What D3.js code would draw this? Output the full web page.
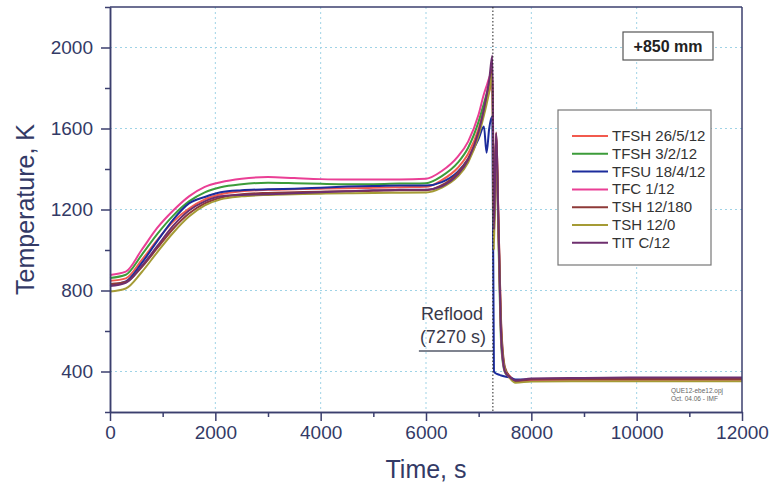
<!DOCTYPE html>
<html>
<head>
<meta charset="utf-8">
<script src="https://cdn.jsdelivr.net/npm/d3@7"></script>
<style>
    body { margin: 0; background: #fff; }
    svg { font-family: "Liberation Sans", Arial, sans-serif; }
</style>
</head>
<body>
<div id="chart"></div>
<script>
"use strict";

const WIDTH = 774;
const HEIGHT = 491;
const MARGIN = { top: 7, right: 32, bottom: 79, left: 110 };

const AXIS_COLOR = "#3b3f6e";
const TEXT_COLOR = "#333a66";

// Time points (s) shared by all series
const times = [
    0, 300, 600, 900, 1200, 1500, 1800, 2100, 2500, 3000, 3500, 4000, 4500, 5000, 5500, 6000,
    6300, 6600, 6800, 7000, 7100, 7150, 7200, 7260, 7290, 7330, 7380, 7430, 7500, 7600, 7700,
    8000, 9000, 10000, 11000, 12000
];

const seriesNames = [
    "TFSH 26/5/12", "TFSH 3/2/12", "TFSU 18/4/12", "TFC 1/12", "TSH 12/180", "TSH 12/0", "TIT C/12"
];
const seriesColors = ["#f25a4e", "#3c9c3a", "#1c2c9c", "#ea3f95", "#8e3a38", "#a59b35", "#6e2f6e"];

// Temperatures (K)
const tfsh26 = [
    848, 860, 950, 1050, 1140, 1205, 1250, 1275, 1290, 1297, 1300, 1303, 1305, 1307, 1310, 1312,
    1345, 1405, 1475, 1600, 1695, 1740, 1785, 1830, 1200, 1560, 1100, 600, 410, 375, 355,
    362, 365, 365, 365, 366
];
const tfsh3 = [
    862, 878, 975, 1080, 1170, 1240, 1285, 1310, 1325, 1332, 1330, 1327, 1325, 1325, 1328, 1330,
    1365, 1430, 1505, 1635, 1725, 1770, 1815, 1850, 1100, 1520, 1000, 520, 395, 368, 352,
    358, 360, 360, 360, 360
];
const tfsu18 = [
    828, 845, 935, 1045, 1150, 1230, 1262, 1285, 1295, 1300, 1303, 1308, 1313, 1316, 1318, 1318,
    1335, 1385, 1450, 1550, 1610, 1480, 1600, 1660, 400, 390, 385, 380, 375, 370, 360,
    362, 362, 362, 362, 362
];
const tfc1 = [
    877, 893, 1000, 1110, 1195, 1265, 1312, 1335, 1352, 1360, 1355, 1350, 1348, 1348, 1348, 1352,
    1390, 1460, 1535, 1670, 1770, 1810, 1850, 1880, 1150, 1500, 1050, 550, 400, 370, 350,
    355, 358, 358, 358, 358
];
const tsh180 = [
    832, 842, 915, 1010, 1105, 1180, 1230, 1258, 1275, 1282, 1285, 1288, 1290, 1292, 1295, 1295,
    1320, 1380, 1450, 1580, 1685, 1740, 1800, 1900, 1050, 1580, 1100, 620, 420, 372, 352,
    360, 363, 363, 363, 363
];
const tsh0 = [
    795, 810, 890, 990, 1085, 1165, 1220, 1250, 1265, 1272, 1275, 1278, 1280, 1282, 1283, 1284,
    1308, 1362, 1432, 1565, 1665, 1720, 1780, 1870, 1000, 1540, 1050, 580, 410, 365, 345,
    350, 352, 352, 352, 352
];
const titC = [
    822, 838, 920, 1020, 1120, 1195, 1240, 1265, 1272, 1275, 1280, 1285, 1290, 1295, 1297, 1298,
    1315, 1372, 1445, 1585, 1695, 1765, 1840, 1960, 1100, 1575, 1080, 560, 400, 370, 355,
    365, 368, 370, 370, 370
];
const seriesValues = [tfsh26, tfsh3, tfsu18, tfc1, tsh180, tsh0, titC];

const xMajorTicks = [0, 2000, 4000, 6000, 8000, 10000, 12000];
const xMinorTicks = [1000, 3000, 5000, 7000, 9000, 11000];
const yMajorTicks = [400, 800, 1200, 1600, 2000];
const yMinorTicks = [200, 600, 1000, 1400, 1800, 2200];
const xGridTicks = [2000, 4000, 6000, 8000, 10000];

const REFLOOD_TIME = 7270;

render(document.getElementById("chart"));

function render(container) {
    const svg = d3.select(container)
        .append("svg")
        .attr("width", WIDTH)
        .attr("height", HEIGHT);

    const innerWidth = WIDTH - MARGIN.left - MARGIN.right;
    const innerHeight = HEIGHT - MARGIN.top - MARGIN.bottom;

    const x = d3.scaleLinear().domain([0, 12000]).range([0, innerWidth]);
    const y = d3.scaleLinear().domain([200, 2200]).range([innerHeight, 0]);

    const plot = svg.append("g")
        .attr("transform", `translate(${MARGIN.left},${MARGIN.top})`);

    renderGrid(plot, x, y, innerWidth, innerHeight);
    renderSeries(plot, x, y);
    renderFrame(plot, innerWidth, innerHeight);
    renderAxes(plot, x, y, innerWidth, innerHeight);
    renderAnnotations(plot, x, y, innerHeight);
    renderLegend(svg);
    renderTitles(svg, innerWidth, innerHeight);
}

function renderGrid(plot, x, y, innerWidth, innerHeight) {
    const grid = plot.append("g")
        .attr("stroke", "#9fd3e6")
        .attr("stroke-width", 1)
        .attr("stroke-dasharray", "2,3");

    grid.selectAll(".hgrid")
        .data(yMajorTicks)
        .join("line")
        .attr("x1", 0)
        .attr("x2", innerWidth)
        .attr("y1", d => y(d))
        .attr("y2", d => y(d));

    grid.selectAll(".vgrid")
        .data(xGridTicks)
        .join("line")
        .attr("x1", d => x(d))
        .attr("x2", d => x(d))
        .attr("y1", 0)
        .attr("y2", innerHeight);
}

function renderSeries(plot, x, y) {
    const line = d3.line()
        .x(d => x(d[0]))
        .y(d => y(d[1]))
        .curve(d3.curveMonotoneX);

    plot.selectAll(".series")
        .data(seriesValues)
        .join("path")
        .attr("fill", "none")
        .attr("stroke", (_, i) => seriesColors[i])
        .attr("stroke-width", 2)
        .attr("stroke-linejoin", "round")
        .attr("d", values => line(values.map((v, i) => [times[i], v])));
}

function renderFrame(plot, innerWidth, innerHeight) {
    plot.append("line")
        .attr("x1", 0).attr("x2", innerWidth)
        .attr("y1", 0).attr("y2", 0)
        .attr("stroke", AXIS_COLOR)
        .attr("stroke-width", 1.5);

    plot.append("line")
        .attr("x1", innerWidth).attr("x2", innerWidth)
        .attr("y1", 0).attr("y2", innerHeight)
        .attr("stroke", AXIS_COLOR)
        .attr("stroke-width", 1.5);
}

function renderAxes(plot, x, y, innerWidth, innerHeight) {
    const styleAxis = g => {
        g.select(".domain").attr("stroke", AXIS_COLOR).attr("stroke-width", 1.5);
        g.selectAll(".tick line").attr("stroke", AXIS_COLOR).attr("stroke-width", 1.5);
        g.selectAll(".tick text")
            .attr("fill", TEXT_COLOR)
            .style("font-size", "19px")
            .style("font-family", "'Liberation Sans', Arial, sans-serif");
    };

    plot.append("g")
        .attr("transform", `translate(0,${innerHeight})`)
        .call(d3.axisBottom(x).tickValues(xMinorTicks).tickSize(5).tickSizeOuter(0).tickFormat(""))
        .call(styleAxis);

    plot.append("g")
        .attr("transform", `translate(0,${innerHeight})`)
        .call(d3.axisBottom(x).tickValues(xMajorTicks).tickSize(9).tickSizeOuter(0)
            .tickPadding(5).tickFormat(d3.format("d")))
        .call(styleAxis);

    plot.append("g")
        .call(d3.axisLeft(y).tickValues(yMinorTicks).tickSize(5).tickSizeOuter(0).tickFormat(""))
        .call(styleAxis);

    plot.append("g")
        .call(d3.axisLeft(y).tickValues(yMajorTicks).tickSize(9).tickSizeOuter(0)
            .tickPadding(8).tickFormat(d3.format("d")))
        .call(styleAxis);
}

function renderAnnotations(plot, x, y, innerHeight) {
    const rx = x(REFLOOD_TIME);

    plot.append("line")
        .attr("x1", rx).attr("x2", rx)
        .attr("y1", 0).attr("y2", innerHeight)
        .attr("stroke", "#222")
        .attr("stroke-width", 1)
        .attr("stroke-dasharray", "1.5,2");

    const label = plot.append("g")
        .attr("fill", "#3a3a4a")
        .style("font-size", "18px");

    label.append("text")
        .attr("x", rx - 72)
        .attr("y", y(2200) + 313)
        .text("Reflood");

    label.append("text")
        .attr("x", rx - 73)
        .attr("y", y(2200) + 336)
        .text("(7270 s)");

    plot.append("line")
        .attr("x1", rx - 74).attr("x2", rx)
        .attr("y1", 344).attr("y2", 344)
        .attr("stroke", "#555a6a")
        .attr("stroke-width", 1.5);

    // Top-right position box
    const box = plot.append("g")
        .attr("transform", `translate(${623 - MARGIN.left},${32 - MARGIN.top})`);

    box.append("rect")
        .attr("width", 90)
        .attr("height", 28)
        .attr("fill", "#fff")
        .attr("stroke", "#555")
        .attr("stroke-width", 1.2);

    box.append("text")
        .attr("x", 45)
        .attr("y", 20)
        .attr("text-anchor", "middle")
        .attr("fill", "#222")
        .style("font-size", "16px")
        .style("font-weight", "bold")
        .text("+850 mm");

    // File stamp
    const stamp = plot.append("g")
        .attr("fill", "#666")
        .style("font-size", "6.5px");

    stamp.append("text")
        .attr("x", 671 - MARGIN.left)
        .attr("y", 393 - MARGIN.top)
        .text("QUE12-ebe12.opj");

    stamp.append("text")
        .attr("x", 671 - MARGIN.left)
        .attr("y", 401 - MARGIN.top)
        .text("Oct. 04.06 - IMF");
}

function renderLegend(svg) {
    const legend = svg.append("g")
        .attr("transform", "translate(558,110)");

    legend.append("rect")
        .attr("width", 153)
        .attr("height", 155)
        .attr("fill", "#fff")
        .attr("stroke", "#777")
        .attr("stroke-width", 1.2);

    const rows = legend.selectAll(".legend-row")
        .data(seriesNames)
        .join("g")
        .attr("transform", (_, i) => `translate(0,${26 + i * 17.8})`);

    rows.append("line")
        .attr("x1", 14)
        .attr("x2", 50)
        .attr("stroke", (_, i) => seriesColors[i])
        .attr("stroke-width", 2);

    rows.append("text")
        .attr("x", 54)
        .attr("y", 5)
        .attr("fill", "#333")
        .style("font-size", "15px")
        .text(d => d);
}

function renderTitles(svg, innerWidth, innerHeight) {
    svg.append("text")
        .attr("x", MARGIN.left + innerWidth / 2)
        .attr("y", 478)
        .attr("text-anchor", "middle")
        .attr("fill", TEXT_COLOR)
        .style("font-size", "25px")
        .text("Time, s");

    svg.append("text")
        .attr("transform", `translate(34,${MARGIN.top + innerHeight / 2}) rotate(-90)`)
        .attr("text-anchor", "middle")
        .attr("fill", TEXT_COLOR)
        .style("font-size", "25px")
        .text("Temperature, K");
}
</script>
</body>
</html>
